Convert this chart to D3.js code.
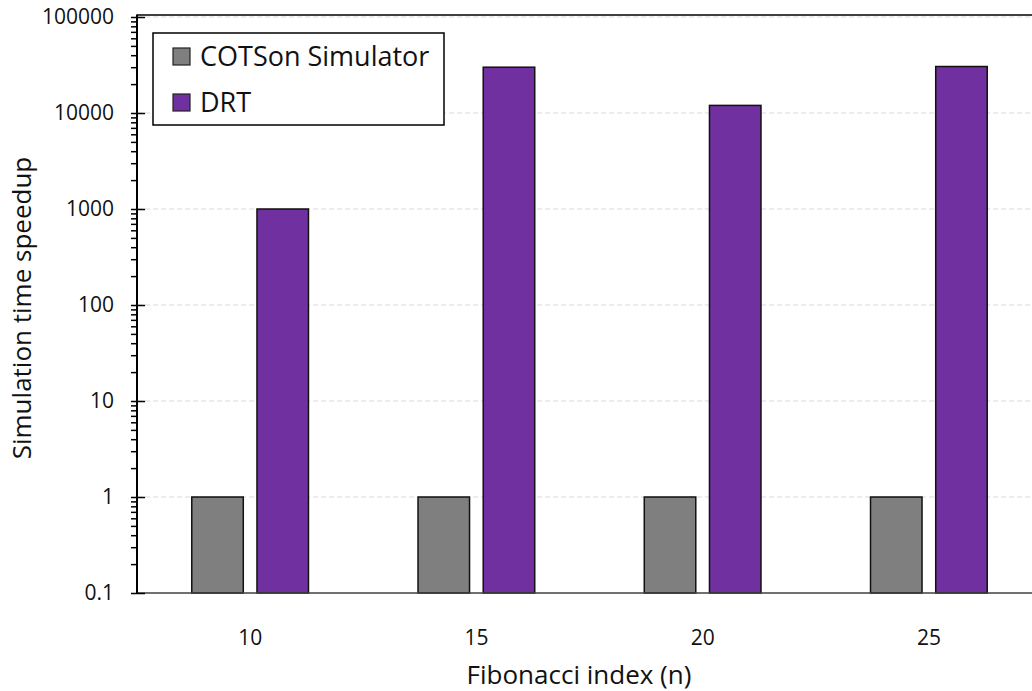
<!DOCTYPE html>
<html>
<head>
<meta charset="utf-8">
<script src="https://cdn.jsdelivr.net/npm/d3@7"></script>
<style>
  html, body { margin: 0; padding: 0; background: #fff; }
  svg { display: block; font-family: "Open Sans", sans-serif; }
</style>
</head>
<body>
<svg id="chart" width="1032" height="691"></svg>
<script>
// Fibonacci index categories and speedup per simulator
const categories = ["10", "15", "20", "25"];
const seriesNames = ["COTSon Simulator", "DRT"];
const cotsonValues = [1, 1, 1, 1];
const drtValues = [1000, 30000, 12000, 30500];
const yTickValues = [0.1, 1, 10, 100, 1000, 10000, 100000];
const colors = ["#7f7f7f", "#7030a0"];

const W = 1032, H = 691;
const margin = { left: 137, top: 17, right: -10, bottom: 98 };
const svg = d3.select("#chart");

const x = d3.scaleBand()
  .domain(categories)
  .range([margin.left, W - margin.right])
  .paddingInner(0).paddingOuter(0);

const x1 = d3.scaleBand()
  .domain(seriesNames)
  .range([0, x.bandwidth()])
  .paddingInner(0.21).paddingOuter(0.84);

const y = d3.scaleLog()
  .domain([0.1, 100000])
  .range([H - margin.bottom, margin.top]);

const plotBottom = H - margin.bottom;

// dashed horizontal grid
svg.append("g")
  .selectAll("line")
  .data(yTickValues.slice(1))
  .join("line")
  .attr("x1", margin.left)
  .attr("x2", W)
  .attr("y1", d => y(d))
  .attr("y2", d => y(d))
  .attr("stroke", "#d9d9d9")
  .attr("stroke-width", 1)
  .attr("stroke-dasharray", "5,3");

// top frame line
svg.append("line")
  .attr("x1", margin.left).attr("x2", W)
  .attr("y1", margin.top - 2).attr("y2", margin.top - 2)
  .attr("stroke", "#000").attr("stroke-width", 1.5);

// bars
const rows = categories.map((c, i) => ({ cat: c, vals: [cotsonValues[i], drtValues[i]] }));
const groups = svg.append("g")
  .selectAll("g")
  .data(rows)
  .join("g")
  .attr("transform", d => `translate(${x(d.cat)},0)`);

groups.selectAll("rect")
  .data(d => d.vals.map((v, j) => ({ name: seriesNames[j], v, j })))
  .join("rect")
  .attr("x", d => x1(d.name))
  .attr("width", x1.bandwidth())
  .attr("y", d => y(d.v))
  .attr("height", d => plotBottom - y(d.v))
  .attr("fill", d => colors[d.j])
  .attr("stroke", "#111")
  .attr("stroke-width", 1.5);

// x baseline
svg.append("line")
  .attr("x1", margin.left).attr("x2", W)
  .attr("y1", plotBottom).attr("y2", plotBottom)
  .attr("stroke", "#404040").attr("stroke-width", 1.5);

// x axis labels
const xAxis = d3.axisBottom(x).tickSize(0).tickPadding(0);
const gx = svg.append("g")
  .attr("transform", `translate(0,${plotBottom})`)
  .call(xAxis);
gx.select(".domain").remove();
gx.selectAll("text")
  .attr("dy", null)
  .attr("y", 52)
  .attr("font-size", 21)
  .attr("font-family", "Open Sans, sans-serif")
  .attr("fill", "#111");

// y axis with log minor ticks
const minorTicks = [];
for (let e = -1; e < 5; e++) {
  for (let k = 2; k <= 9; k++) minorTicks.push(k * Math.pow(10, e));
}
const gyMinor = svg.append("g")
  .attr("transform", `translate(${margin.left},0)`)
  .call(d3.axisLeft(y).tickValues(minorTicks).tickSize(6).tickFormat(""));
gyMinor.select(".domain").remove();
gyMinor.selectAll("line").attr("stroke", "#000").attr("stroke-width", 1.5);

const gy = svg.append("g")
  .attr("transform", `translate(${margin.left},0)`)
  .call(d3.axisLeft(y)
    .tickValues(yTickValues)
    .tickSize(6)
    .tickPadding(17)
    .tickFormat(d => String(d)));
gy.select(".domain")
  .attr("d", `M0,${margin.top - 2.5}V${plotBottom}`)
  .attr("stroke", "#000").attr("stroke-width", 2);
gy.selectAll(".tick line")
  .attr("x2", -6).attr("x1", 8)
  .attr("stroke", "#000").attr("stroke-width", 1.5);
gy.selectAll("text")
  .attr("font-size", 21)
  .attr("font-family", "Open Sans, sans-serif")
  .attr("fill", "#111");

// axis titles
svg.append("text")
  .attr("x", 579)
  .attr("y", 684)
  .attr("text-anchor", "middle")
  .attr("font-size", 26)
  .attr("fill", "#111")
  .text("Fibonacci index (n)");

svg.append("text")
  .attr("transform", `translate(31,${(margin.top + plotBottom) / 2 + 3}) rotate(-90)`)
  .attr("text-anchor", "middle")
  .attr("font-size", 26)
  .attr("fill", "#111")
  .text("Simulation time speedup");

// legend
const legend = svg.append("g").attr("transform", "translate(153,33)");
legend.append("rect")
  .attr("width", 291).attr("height", 92)
  .attr("fill", "#fff").attr("stroke", "#000").attr("stroke-width", 1.5);
const items = legend.selectAll("g.item")
  .data(seriesNames)
  .join("g")
  .attr("class", "item")
  .attr("transform", (d, i) => `translate(20,${15 + i * 46})`);
items.append("rect")
  .attr("width", 17).attr("height", 17)
  .attr("y", 0)
  .attr("fill", (d, i) => colors[i])
  .attr("stroke", "#222").attr("stroke-width", 1.2);
items.append("text")
  .attr("x", 27)
  .attr("y", 18)
  .attr("font-size", 27)
  .attr("fill", "#111")
  .text(d => d);
</script>
</body>
</html>
